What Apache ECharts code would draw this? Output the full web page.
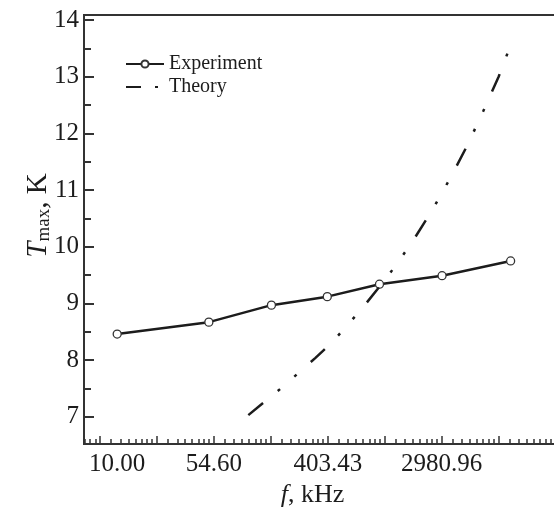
<!DOCTYPE html>
<html>
<head>
<meta charset="utf-8">
<script src="https://cdn.jsdelivr.net/npm/echarts@6/dist/echarts.min.js"></script>
<style>
html, body { margin: 0; padding: 0; background: #fff; }
#Chart { width: 554px; height: 517px; }
</style>
</head>
<body>
<div id="Chart"></div>
<script>
// data
var freq = [10, 50, 150, 400, 1000, 3000, 10000];
var tExp = [8.46, 8.67, 8.97, 9.12, 9.34, 9.49, 9.75];
var freqTheory = [100, 175, 325, 430, 730, 1150, 1760, 2500, 3500, 4700, 6200, 8100, 10000];
var tTheory = [7.03, 7.49, 8.04, 8.30, 8.90, 9.47, 10.07, 10.63, 11.23, 11.80, 12.40, 13.00, 13.56];
// tick labels
var xLabels = [10, 54.59815, 403.428793, 2980.957987];
var yLabels = [7, 8, 9, 10, 11, 12, 13, 14];
var yHalf = [7.5, 8.5, 9.5, 10.5, 11.5, 12.5, 13.5];

var font = "Liberation Serif";
var ink = "#1c1c1c";
var axisColor = "#333";

function pairs(xs, ys) {
    var out = [];
    for (var i = 0; i < xs.length; i++) {
        out.push([xs[i], ys[i]]);
    }
    return out;
}

var myChart = echarts.init(document.getElementById("Chart"));
var option = {
    animation: false,
    grid: {
        left: 84,
        top: 15,
        bottom: 73,
        right: -13,
        outerBoundsMode: 'none',
        show: true,
        borderWidth: 2,
        borderColor: axisColor
    },
    legend: {
        orient: 'vertical',
        left: 120,
        top: 49,
        itemWidth: 38,
        itemHeight: 9,
        itemGap: 3,
        textStyle: { fontFamily: font, fontSize: 20, color: ink },
        data: [
            { name: 'Experiment' },
            {
                name: 'Theory',
                itemStyle: { color: 'rgba(0,0,0,0)', borderWidth: 0 },
                lineStyle: { type: [15, 14, 3, 20] }
            }
        ]
    },
    xAxis: {
        type: 'log',
        logBase: Math.E,
        min: 5.585,
        max: 26903,
        axisLine: { lineStyle: { color: axisColor, width: 2 } },
        axisTick: { inside: true, length: 8, lineStyle: { color: axisColor, width: 1.5 } },
        minorTick: { show: true, splitNumber: 8, length: 5, lineStyle: { color: axisColor, width: 1.5 } },
        splitLine: { show: false },
        minorSplitLine: { show: false },
        axisLabel: {
            customValues: xLabels,
            margin: 8,
            fontFamily: font,
            fontSize: 25,
            color: ink,
            formatter: function (v) { return Number(v).toFixed(2); }
        },
        name: '{i|f}, kHz',
        nameLocation: 'middle',
        nameGap: 38,
        nameMoveOverlap: false,
        nameTextStyle: {
            fontFamily: font,
            fontSize: 26,
            color: ink,
            padding: [0, 26, 0, 0],
            rich: { i: { fontFamily: font, fontSize: 26, fontStyle: 'italic', color: ink } }
        }
    },
    yAxis: [{
        type: 'value',
        position: 'left',
        min: 6.52,
        max: 14.09,
        axisLine: { show: true, lineStyle: { color: axisColor, width: 2 } },
        axisTick: { inside: true, length: 10, customValues: yLabels, lineStyle: { color: axisColor, width: 2 } },
        splitLine: { show: false },
        axisLabel: {
            customValues: yLabels,
            margin: 5,
            fontFamily: font,
            fontSize: 25,
            color: ink
        },
        name: '{i|T}{s|max}{n|, K}',
        nameLocation: 'middle',
        nameRotate: 90,
        nameGap: 30,
        nameMoveOverlap: false,
        nameTextStyle: {
            fontFamily: font,
            fontSize: 29,
            color: ink,
            padding: [0, 0, 0, 28],
            rich: {
                i: { fontFamily: font, fontSize: 29, fontStyle: 'italic', color: ink },
                s: { fontFamily: font, fontSize: 19, color: ink, verticalAlign: 'bottom', padding: [12, 0, 0, 0] },
                n: { fontFamily: font, fontSize: 29, color: ink }
            }
        }
    }, {
        type: 'value',
        position: 'left',
        min: 6.52,
        max: 14.09,
        axisLine: { show: false },
        axisTick: { inside: true, length: 7, customValues: yHalf, lineStyle: { color: axisColor, width: 2 } },
        splitLine: { show: false },
        axisLabel: { show: false }
    }],
    series: [
        {
            name: 'Experiment',
            type: 'line',
            data: pairs(freq, tExp),
            symbol: 'circle',
            symbolSize: 8,
            itemStyle: { color: '#fff', borderColor: '#333', borderWidth: 1.3 },
            lineStyle: { color: ink, width: 2.5 },
            z: 2
        },
        {
            name: 'Theory',
            type: 'line',
            data: pairs(freqTheory, tTheory),
            symbol: 'none',
            itemStyle: { color: ink },
            lineStyle: { color: ink, width: 2.5, type: [19, 19, 3, 19, 3, 19], cap: 'butt' },
            z: 3
        }
    ]
};
myChart.setOption(option);
window.addEventListener("resize", function () {
    myChart.resize();
});
</script>
</body>
</html>
